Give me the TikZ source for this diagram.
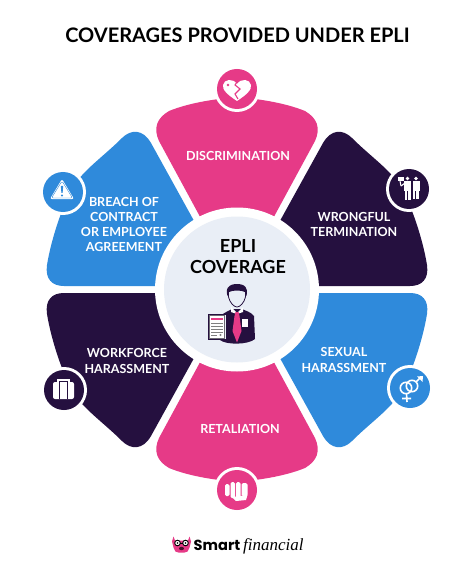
\documentclass[tikz,border=0pt]{standalone}
\usepackage{fontspec}
\setmainfont{Lato}
\newfontfamily\smartfont{Poppins}
\newfontfamily\finfont{Liberation Serif}
\usetikzlibrary{calc}
\definecolor{pinkc}{HTML}{E63A87}
\definecolor{navyc}{HTML}{25103F}
\definecolor{bluec}{HTML}{2F8ADB}
\definecolor{lightc}{HTML}{E9EEF6}
\newcommand{\toppath}{(237,285) -- (315,141) .. controls (321,128) and (317,118) .. (305,111) .. controls (290,105) and (270,100) .. (237,97) .. controls (204,100) and (184,105) .. (169,111) .. controls (157,118) and (153,128) .. (159,141) -- cycle}
\newcommand{\sidepath}{(244,286) -- (323,143) .. controls (331,129) and (343,129) .. (352,138) .. controls (368,154) and (385,166) .. (396,180) .. controls (410,198) and (423,240) .. (427,265) .. controls (429,279) and (422,286) .. (410,286) -- cycle}
\tikzset{
  lab/.style={font=\fontsize{12.5}{15.2}\selectfont\bfseries,text=white,align=center,inner sep=0pt},
  ring/.style={circle,fill=white,minimum size=46pt,inner sep=0pt},
  disc/.style={circle,minimum size=40pt,inner sep=0pt}
}
\begin{document}
\begin{tikzpicture}[x=1pt,y=-1pt]
\useasboundingbox (0,0) rectangle (474,577);
\fill[white] (0,0) rectangle (474,577);
% petals
\fill[pinkc] \toppath;
\begin{scope}[shift={(0,579)},yscale=-1]\fill[pinkc] \toppath;\end{scope}
\fill[navyc] \sidepath;
\begin{scope}[shift={(474,0)},xscale=-1]\fill[bluec] \sidepath;\end{scope}
\begin{scope}[shift={(474,579)},xscale=-1,yscale=-1]\fill[navyc] \sidepath;\end{scope}
\begin{scope}[shift={(0,579)},yscale=-1]\fill[bluec] \sidepath;\end{scope}
% centre
\node[circle,fill=white,minimum size=164pt,inner sep=0pt] (hub) at (237,289.5) {};
\node[circle,fill=lightc,minimum size=146pt,inner sep=0pt] (core) at (237,289.5) {};
% title
\node[inner sep=0pt,font=\fontsize{20}{22}\selectfont\bfseries] (title) at (237.5,35.5) {COVERAGES PROVIDED UNDER EPLI};
\node[inner sep=0pt,align=center,font=\fontsize{18}{21}\selectfont\bfseries] (hubtext) at (238,256.5) {EPLI\\COVERAGE};
% labels
\node[lab] (l1) at (238,156) {DISCRIMINATION};
\node[lab] (l2) at (354,224.5) {WRONGFUL\\TERMINATION};
\node[lab] (l3) at (124,224.5) {BREACH OF\\CONTRACT\\OR EMPLOYEE\\AGREEMENT};
\node[lab] (l4) at (127,361) {WORKFORCE\\HARASSMENT};
\node[lab] (l5) at (344,360) {SEXUAL\\HARASSMENT};
\node[lab] (l6) at (240,428.5) {RETALIATION};
% icon discs
\node[ring] (r1) at (237,89) {}; \node[disc,fill=pinkc] (d1) at (237,89) {};
\node[ring] (r2) at (409,189) {}; \node[disc,fill=navyc] (d2) at (409,189) {};
\node[ring] (r3) at (63,192) {}; \node[disc,fill=bluec] (d3) at (63,192) {};
\node[ring] (r4) at (64,390) {}; \node[disc,fill=navyc] (d4) at (64,390) {};
\node[ring] (r5) at (410,388) {}; \node[disc,fill=bluec] (d5) at (410,388) {};
\node[ring] (r6) at (237,490) {}; \node[disc,fill=pinkc] (d6) at (237,490) {};
% broken heart
\fill[white] (237,101) .. controls (228,95) and (222,90) .. (223,85) .. controls (224,79) and (233,78) .. (237,84) .. controls (241,78) and (250,79) .. (251,85) .. controls (252,90) and (246,95) .. (237,101) -- cycle;
\draw[pinkc,line width=1.1pt] (239,79) -- (235,85) -- (240,89) -- (235,94) -- (238,99);
\fill[pinkc] (228,85) circle (1.3);
% workers
\fill[white] (398,177) rectangle (404,181);
\draw[white,line width=1] (400,181) -- (401,186);
\fill[white] (407.5,178.5) circle (1.9);
\fill[white] (416,178.5) circle (1.9);
\fill[white] (404,181.5) rectangle (411,191);
\fill[white] (412.5,181.5) rectangle (420,191);
\draw[white,line width=1.1] (401,186) -- (405,183);
\fill[white] (405,191) rectangle (407,200);
\fill[white] (408,191) rectangle (410.5,200);
\fill[white] (413,191) rectangle (415,199);
\fill[white] (416,191) rectangle (418.5,199);
% warning
\fill[white,rounded corners=2pt] (62,179) -- (74,199) -- (50,199) -- cycle;
\draw[bluec,line width=.4,rounded corners=1.5pt] (62,181) -- (72.5,198) -- (51.5,198) -- cycle;
\fill[bluec] (60.8,186) -- (63.2,186) -- (62.6,193) -- (61.4,193) -- cycle;
\fill[bluec] (62,195.5) circle (1.2);
% briefcase
\draw[white,line width=1.1] (58,383) -- (58,380) -- (69,380) -- (69,383);
\fill[white,rounded corners=2pt] (53,382) rectangle (74,399);
\draw[navyc,line width=.8] (59.5,382) -- (59.5,399) (67,382) -- (67,399);
% gender
\draw[white,line width=1.6] (406,388) circle (5.7);
\draw[white,line width=1.6] (412,386) circle (5.7);
\draw[white,line width=1.6] (406.5,393.5) -- (407,402) (402,398.5) -- (411,398.5);
\draw[white,line width=1.6] (416,382) -- (420,378);
\fill[white] (423,376) -- (422.5,382) -- (417,376.5) -- cycle;
% fist
\fill[white,rounded corners=1.5pt] (225,484) rectangle (229.5,496);
\fill[white,rounded corners=1.5pt] (230.5,482) rectangle (235,498);
\fill[white,rounded corners=1.5pt] (236,482) rectangle (240.5,498);
\fill[white,rounded corners=1.5pt] (241.5,483) rectangle (247.5,496);
\fill[white] (232,497) -- (247.5,495) -- (246,500) -- (236,501) -- cycle;
% person
\fill[navyc] (220,340) -- (220,316) .. controls (224,313) and (228,311) .. (232,309) -- (242,309) .. controls (246,311) and (251,312) .. (254,316) -- (255,339) .. controls (248,345) and (226,345) .. (220,340) -- cycle;
\fill[white] (231,307) -- (237,313) -- (243,307) -- (243,312) -- (237,314) -- (231,312) -- cycle;
\fill[lightc,draw=navyc,line width=.8] (228.5,289) .. controls (228.5,285) and (245.5,285) .. (245.5,289) -- (245.5,297) .. controls (244,303) and (240,307) .. (237,307) .. controls (234,307) and (230,303) .. (228.5,297) -- cycle;
\fill[navyc] (227.3,296) .. controls (226.3,291) and (227,288) .. (228.5,287) .. controls (231,283) and (243,283) .. (245.5,287) .. controls (247,289) and (247.5,291) .. (246.5,296) -- (245,292) .. controls (241,290) and (233,290) .. (229,292) -- cycle;
\fill[pinkc] (235.5,312) -- (238.5,312) -- (239.5,316) -- (241.5,331) -- (237,342.5) -- (232.5,331) -- (234.5,316) -- cycle;
\fill[white] (242,319) rectangle (248,327);
\fill[lightc,draw=navyc,line width=.7] (208,314) rectangle (226,339);
\fill[white,draw=gray!80!navyc,line width=.5] (209,315.5) rectangle (224.5,338);
\fill[pinkc] (211,318) rectangle (222.5,319.8);
\foreach \yy in {323,326,329,332}{\fill[gray] (211,\yy) rectangle (222.5,\yy+.9);}
\fill[gray] (211,335) rectangle (217,335.9);
\fill[gray] (220.5,335) circle (1.2);
% logo
\begin{scope}[shift={(181.5,544.5)}]
\fill[pinkc] (-8,-8) -- (-6.5,-4) -- (6.5,-4) -- (8,-8) -- (9.5,-3) -- (8,3) -- (6,7) -- (3,8) -- (-3,8) -- (-6,7) -- (-8,3) -- (-9.5,-3) -- cycle;
\draw[black,fill=white,line width=.9] (-4,-1.5) circle (2.8) (4,-1.5) circle (2.8);
\draw[black,line width=.9] (-1.2,-1.5) -- (1.2,-1.5);
\fill[black] (-4,-1.5) circle (.8) (4,-1.5) circle (.8);
\fill[black!70!pinkc] (0,4) ellipse (2.5 and 1.7);
\end{scope}
\node[inner sep=0pt,anchor=base west,font=\smartfont\fontsize{14.6}{18}\selectfont\bfseries] (smart) at (193.5,550) {Smart};
\node[inner sep=0pt,anchor=base west,font=\finfont\fontsize{17}{18}\selectfont\itshape] (fin) at (243,550) {financial};
\end{tikzpicture}
\end{document}
